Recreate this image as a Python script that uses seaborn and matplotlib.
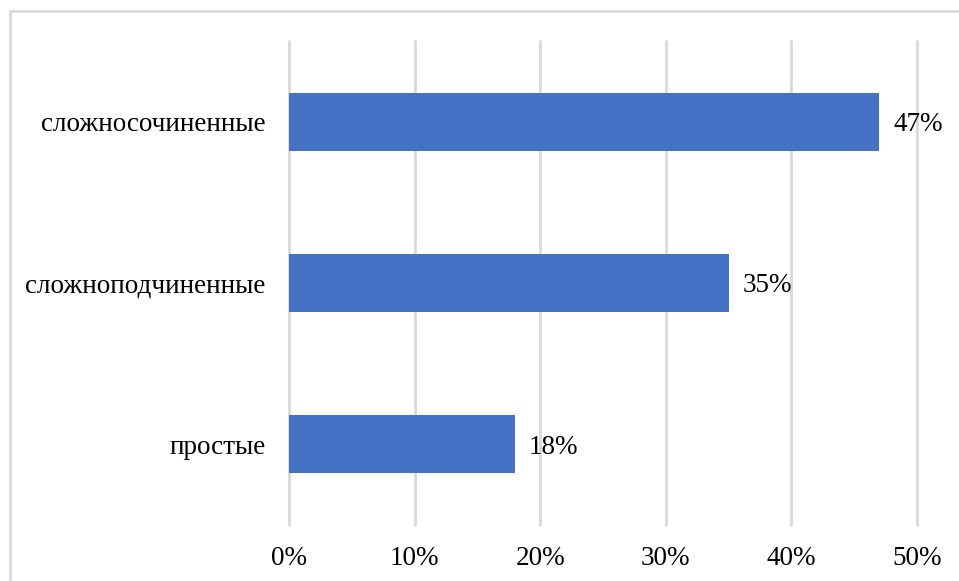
import matplotlib
matplotlib.use("Agg")
import matplotlib.pyplot as plt
import seaborn as sns
import pandas as pd
from matplotlib.patches import Rectangle
from matplotlib.ticker import FuncFormatter

categories = ["сложносочиненные", "сложноподчиненные", "простые"]
values = [0.47, 0.35, 0.18]
xticks = [0, 0.1, 0.2, 0.3, 0.4, 0.5]

sns.set_theme(style="white")
plt.rcParams['font.family'] = ['Liberation Serif', 'DejaVu Serif']

df = pd.DataFrame({"cat": categories, "val": values})

fig = plt.figure(figsize=(9.59, 5.81), dpi=100)
ax = fig.add_axes([289/959, 1-525/581, (917-289)/959, (525-41)/581])

sns.barplot(data=df, x="val", y="cat", orient="h", color="#4472C4",
            saturation=1, width=0.36, ax=ax, zorder=3, linewidth=0)

ax.set_xlim(0, 0.5)
ax.set_ylim(2.5, -0.5)
ax.set_xticks(xticks)
ax.xaxis.set_major_formatter(FuncFormatter(lambda v, p: f"{v*100:.0f}%"))
ax.grid(axis="x", color="#d9d9d9", linewidth=2, zorder=0)
ax.grid(axis="y", visible=False)
for gl in ax.get_xgridlines():
    gl.set_clip_on(False)
for s in ax.spines.values():
    s.set_visible(False)
ax.tick_params(axis="x", length=0, pad=15, labelsize=19.5, colors="black")
ax.tick_params(axis="y", length=0, pad=17, labelsize=19.5, colors="black")
ax.set_xlabel("")
ax.set_ylabel("")

for c in ax.containers:
    texts = ax.bar_label(c, labels=[f"{v*100:.0f}%" for v in values], padding=10,
                         fontsize=19.5, color="black")
    for t in texts:
        t.set_va("center_baseline")

fig.patches.append(Rectangle((10/959, -0.05), 1.05, 1-11/581+0.05,
                             transform=fig.transFigure, fill=False,
                             edgecolor="#d9d9d9", linewidth=2))

fig.savefig("out.png", dpi=100)
